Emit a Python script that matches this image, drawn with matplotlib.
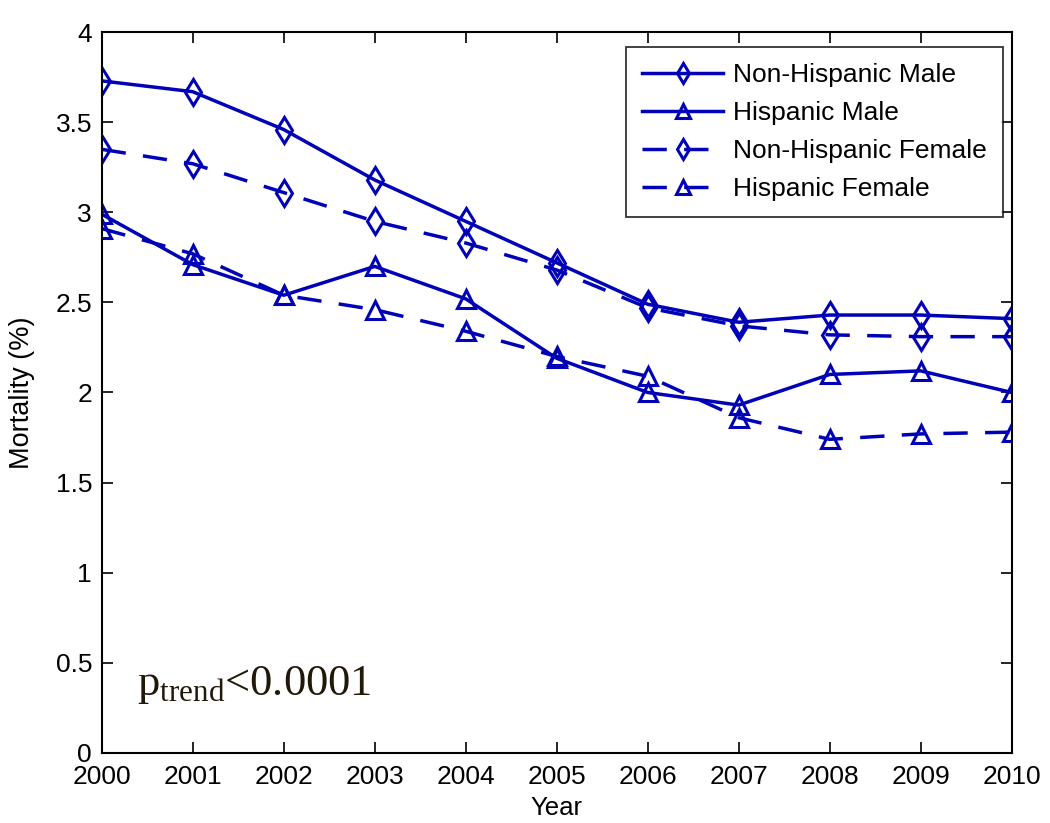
import matplotlib
matplotlib.use("Agg")
import matplotlib.pyplot as plt

years = list(range(2000, 2011))
non_hispanic_male = [3.73, 3.67, 3.46, 3.18, 2.95, 2.72, 2.49, 2.39, 2.43, 2.43, 2.41]
hispanic_male = [2.99, 2.71, 2.54, 2.70, 2.52, 2.19, 2.00, 1.93, 2.10, 2.12, 2.00]
non_hispanic_female = [3.35, 3.27, 3.11, 2.95, 2.83, 2.68, 2.47, 2.37, 2.32, 2.31, 2.31]
hispanic_female = [2.91, 2.77, 2.54, 2.46, 2.34, 2.20, 2.09, 1.86, 1.74, 1.77, 1.78]
series_labels = ["Non-Hispanic Male", "Hispanic Male", "Non-Hispanic Female", "Hispanic Female"]
ytick_vals = [0, 0.5, 1, 1.5, 2, 2.5, 3, 3.5, 4]
ytick_labels = ["0", "0.5", "1", "1.5", "2", "2.5", "3", "3.5", "4"]

plt.rcParams['font.family'] = ['Liberation Sans', 'DejaVu Sans']
plt.rcParams['mathtext.fontset'] = 'custom'
plt.rcParams['mathtext.rm'] = 'Liberation Serif'

fig = plt.figure(figsize=(10.5, 8.23), dpi=100)
ax = fig.add_axes([0.0969, 0.0854, 0.8666, 0.8754])

color = '#0000b8'
common = dict(color=color, lw=2.5, markersize=13, markerfacecolor='none', markeredgewidth=2.2)
ax.plot(years, non_hispanic_male, marker='d', linestyle='-', label=series_labels[0], **common)
ax.plot(years, hispanic_male, marker='^', linestyle='-', label=series_labels[1], **common)
ax.plot(years, non_hispanic_female, marker='d', linestyle=(0, (7, 5)), label=series_labels[2], **common)
ax.plot(years, hispanic_female, marker='^', linestyle=(0, (7, 5)), label=series_labels[3], **common)

ax.set_xlim(2000, 2010)
ax.set_ylim(0, 4)
ax.set_xticks(years)
ax.set_xticklabels([str(y) for y in years])
ax.set_yticks(ytick_vals)
ax.set_yticklabels(ytick_labels)
ax.tick_params(direction='in', top=True, right=True, length=8, width=1.2, labelsize=19)
ax.tick_params(axis='x', pad=9)
ax.tick_params(axis='y', pad=7)
for s in ax.spines.values():
    s.set_linewidth(1.5)
ax.set_xlabel("Year", fontsize=18.5, labelpad=5)
ax.set_ylabel("Mortality (%)", fontsize=19.5)
ax.yaxis.set_label_coords(-0.0735, 0.5)

leg = ax.legend(loc='upper right', fontsize=19, frameon=True, fancybox=False,
                edgecolor='black', handlelength=3.1, borderpad=0.6, labelspacing=0.53,
                handletextpad=0.38, borderaxespad=0, bbox_to_anchor=(0.9905, 0.9796))
leg.get_frame().set_linewidth(1.3)
for h in leg.legend_handles:
    h.set_markersize(10)

ax.text(2000.39, 0.32, r'$\mathrm{p_{trend}}$<0.0001', fontsize=32,
        family='Liberation Serif', color='#201808')

fig.savefig("out.png", dpi=100, facecolor='white')
